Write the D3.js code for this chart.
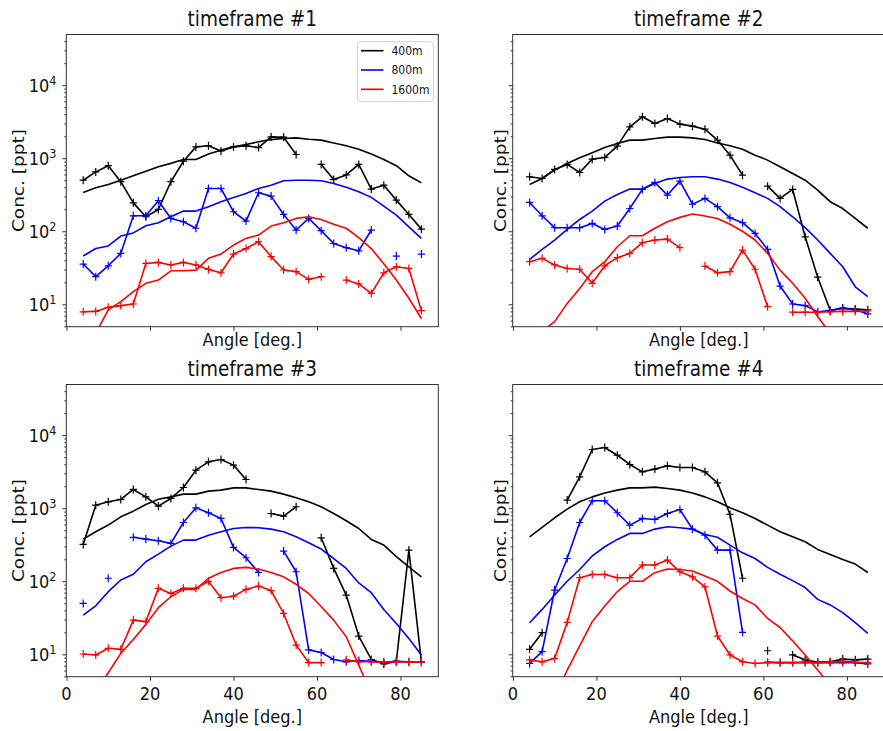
<!DOCTYPE html>
<html>
<head>
<meta charset="utf-8">
<script src="https://cdn.jsdelivr.net/npm/d3@7"></script>
<style>
  body { margin: 0; background: #fff; }
  text { font-family: "DejaVu Sans", sans-serif; fill: #111; }
</style>
</head>
<body>
<svg id="chart" width="883" height="731"></svg>
<script>
// sampling angles (deg.)
var angles = [4, 7, 10, 13, 16, 19, 22, 25, 28, 31, 34, 37, 40, 43, 46, 49, 52, 55, 58, 61, 64, 67, 70, 73, 76, 79, 82, 85];
var seriesNames = ["400m", "800m", "1600m"];
var titles = ["timeframe #1", "timeframe #2", "timeframe #3", "timeframe #4"];
var xTicks = [0, 20, 40, 60, 80];
var yMajor = [10, 100, 1000, 10000];

// timeframe #1
var tf1Meas400 = [500, 650, 790, 477, 245, 158, 199, 477, 910, 1430, 1480, 1260, 1430, 1480, 1400, 1960, 1940, 1125, null, 822, 510, 590, 822, 378, 428, 267, 170, 107];
var tf1Model400 = [340, 394, 438, 500, 575, 665, 763, 850, 960, 960, 1140, 1290, 1430, 1545, 1680, 1800, 1860, 1900, 1820, 1770, 1620, 1480, 1330, 1140, 960, 790, 575, 460];
var tf1Meas800 = [35.6, 23.9, 33.7, 49.8, 163, 163, 262, 150, 135, 110, 386, 386, 185, 138, 337, 303, 170, 104, 150, 102, 68, 59.6, 54, 104, null, 45.8, null, 48.8];
var tf1Model800 = [45.8, 58, 63, 86, 95, 119, 131, 158, 189, 189, 217, 254, 291, 330, 386, 428, 492, 500, 500, 492, 452, 400, 348, 291, 221, 166, 115, 80];
var tf1Meas1600 = [7.9, 8.0, 9.1, 9.6, 10.1, 36.3, 37.5, 34.6, 37.5, 34.6, 30, 27, 48.8, 58, 72, 45, 29.5, 28, 22, 23.9, null, 21.5, 19, 14.1, 27, 32.7, 31, 8.2];
var tf1Model1600 = [2.1, 4.0, 8.4, 10.9, 14.9, 19.4, 21.5, 28.8, 28.8, 29.4, 42.6, 48.8, 64.8, 80, 88.7, 118, 131, 150, 158, 145, 125, 110, 82, 58, 36, 21.5, 12.1, 6.4];

// timeframe #2
var tf2Meas400 = [557, 528, 702, 822, 638, 972, 1025, 1465, 2690, 3690, 2990, 3500, 2930, 2750, 2500, 1770, 1100, 587, null, 415, 282, 374, 84, 23.5, 8.3, 8.8, 8.6, 8.4];
var tf2Model400 = [438, 528, 687, 847, 1014, 1187, 1403, 1592, 1770, 1770, 1864, 1945, 1945, 1900, 1800, 1620, 1480, 1330, 1100, 942, 763, 619, 500, 366, 254, 205, 150, 110];
var tf2Meas800 = [248, 163, 112, 112, 112, 128, 106, 118, 205, 374, 466, 313, 486, 235, 282, 217, 153, 131, 93.5, 56.5, 17.8, 10.1, 9.6, 7.9, 8.2, 8.9, 8.4, 7.4];
var tf2Model800 = [41.2, 56.5, 75.9, 106, 145, 189, 259, 319, 378, 378, 452, 518, 546, 557, 557, 518, 466, 400, 337, 282, 217, 158, 112, 75.9, 49.8, 32.7, 17.4, 12.7];
var tf2Meas1600 = [38.3, 42.6, 34.6, 31, 30.2, 19.4, 33.7, 43.5, 49.8, 69.7, 75.9, 78.2, 59.6, null, 33.4, 27, 28, 55.3, 30.2, 9.3, null, 7.8, 7.8, 7.8, 7.9, 8.0, 8.0, 8.1];
var tf2Model1600 = [3.0, 4.3, 5.8, 10.3, 16.5, 28, 38.3, 61.4, 86.9, 86.9, 110, 135, 155, 172, 162, 150, 125, 100, 75.9, 49.8, 29.4, 19.4, 12.1, 6.8, 4.0, 2.5, 1.5, 0.9];

// timeframe #3
var tf3Meas400 = [319, 1100, 1224, 1318, 1807, 1432, 1069, 1361, 1923, 3320, 4316, 4645, 3889, 2475, null, 847, 780, 1047, null, 394, 150, 64.8, 17.8, 8.5, 7.4, 8.0, 267, 7.9];
var tf3Model400 = [378, 477, 588, 763, 912, 1125, 1330, 1430, 1560, 1560, 1714, 1770, 1900, 1900, 1800, 1714, 1560, 1390, 1224, 1047, 847, 673, 528, 374, 313, 217, 158, 115];
var tf3Meas800 = [49.8, null, 110, null, 400, 378, 359, 330, 638, 1014, 867, 724, 291, 210, 132, null, 259, 135, 11.5, 10.6, 8.5, 7.9, 8.2, 8.0, 7.8, 8.0, 7.9, 7.8];
var tf3Model800 = [34.5, 46.2, 72, 104, 125, 185, 235, 303, 366, 366, 428, 477, 528, 546, 541, 518, 477, 406, 337, 276, 205, 150, 95, 69.7, 41.2, 26.5, 16.5, 9.8];
var tf3Meas1600 = [10.1, 9.8, 12.1, 11.7, 29.4, 28, 80, 68, 80, 80, 100, 59.6, 62.5, 77.5, 86, 74.6, 36.3, 13.4, 7.7, 7.7, null, 8.4, 7.9, 7.9, 7.8, 7.9, 7.8, 7.8];
var tf3Model1600 = [1.5, 3.0, 5.6, 10.3, 16, 25.7, 43.5, 61.4, 77.5, 77.5, 110, 132, 150, 155, 147, 132, 115, 91, 68, 45.1, 29.4, 17.4, 7.1, 2.9, 1.2, 0.6, 0.3, 0.2];

// timeframe #4
var tf4Meas400 = [11.7, 19.8, null, 1291, 2690, 6370, 6780, 5320, 3970, 3150, 3430, 3805, 3610, 3610, 3150, 2230, 822, 110, null, 11.2, null, 9.8, 8.4, 7.8, 7.9, 8.6, 8.4, 8.6];
var tf4Model400 = [406, 546, 740, 972, 1224, 1430, 1620, 1770, 1900, 1900, 1945, 1860, 1770, 1620, 1430, 1224, 1014, 867, 724, 587, 477, 406, 348, 273, 233, 199, 172, 132];
var tf4Meas800 = [7.5, 10.9, 75.9, 205, 638, 1264, 1264, 867, 587, 724, 702, 847, 960, 518, 428, 267, 267, 20, null, 7.8, 7.7, 7.7, 7.8, 7.7, 7.7, 7.7, 7.7, 7.4];
var tf4Model800 = [27.1, 41.2, 64.8, 100, 145, 222, 297, 374, 452, 452, 518, 557, 541, 518, 438, 400, 313, 245, 205, 155, 125, 102, 82, 56.5, 47.5, 37.3, 27.1, 19.4];
var tf4Meas1600 = [8.4, 7.9, 8.8, 27.4, 112, 124, 124, 112, 112, 167, 167, 195, 135, 115, 84, 17.8, 9.8, 7.9, 7.5, 7.7, 7.7, 7.7, 7.7, 7.7, 7.8, 8.0, 7.8, 7.7];
var tf4Model1600 = [0.6, 1.2, 2.5, 6.1, 13.1, 28, 45.8, 72, 100, 100, 131, 147, 145, 138, 118, 100, 73.6, 58, 47.5, 31, 23.3, 15.3, 9.8, 6.1, 3.8, 2.1, 1.2, 0.7];

var colors = ["#000000", "#0000ff", "#ff0000"];

var panels = [
    {title: titles[0], meas: [tf1Meas400, tf1Meas800, tf1Meas1600], model: [tf1Model400, tf1Model800, tf1Model1600]},
    {title: titles[1], meas: [tf2Meas400, tf2Meas800, tf2Meas1600], model: [tf2Model400, tf2Model800, tf2Model1600]},
    {title: titles[2], meas: [tf3Meas400, tf3Meas800, tf3Meas1600], model: [tf3Model400, tf3Model800, tf3Model1600]},
    {title: titles[3], meas: [tf4Meas400, tf4Meas800, tf4Meas1600], model: [tf4Model400, tf4Model800, tf4Model1600]}
];

var W = 372, H = 292.2;
var spots = [
    {x: 66.3, y: 34.5, row: 0, col: 0},
    {x: 512.7, y: 34.5, row: 0, col: 1},
    {x: 66.3, y: 384.5, row: 1, col: 0},
    {x: 512.7, y: 384.5, row: 1, col: 1}
];
var SX = 0.9; // text looks squeezed a bit sideways

var svg = d3.select("#chart");

var x = d3.scaleLinear().domain([-0.05, 89.05]).range([0, W]);
var y = d3.scaleLog().domain([4.94, 49400]).range([H, 0]);
var yMinor = y.ticks().filter(function(v) { return yMajor.indexOf(v) < 0; });

function label(parent, str, tx, ty, size, anchor) {
    return parent.append("text")
        .attr("transform", "translate(" + tx + "," + ty + ") scale(" + SX + ",1)")
        .attr("text-anchor", anchor)
        .style("font-size", size + "px")
        .text(str);
}

var plus = "M-3.6,0H3.6M0,-4V4";

panels.forEach(function(p, k) {
    var s = spots[k];
    var g = svg.append("g").attr("transform", "translate(" + s.x + "," + s.y + ")");

    g.append("clipPath").attr("id", "clip" + k)
        .append("rect").attr("width", W).attr("height", H);

    var plot = g.append("g").attr("clip-path", "url(#clip" + k + ")");

    p.meas.forEach(function(arr, i) {
        var pts = angles.map(function(a, j) { return {a: a, v: arr[j]}; });
        var line = d3.line()
            .defined(function(d) { return d.v != null; })
            .x(function(d) { return x(d.a); })
            .y(function(d) { return y(d.v); });
        plot.append("path").datum(pts)
            .attr("d", line)
            .attr("fill", "none")
            .attr("stroke", colors[i])
            .attr("stroke-width", 1.6)
            .attr("stroke-linejoin", "round");
        plot.selectAll(".mk" + i)
            .data(pts.filter(function(d) { return d.v != null; }))
            .enter().append("path")
            .attr("class", "mk" + i)
            .attr("d", plus)
            .attr("transform", function(d) { return "translate(" + x(d.a) + "," + y(d.v) + ")"; })
            .attr("stroke", colors[i])
            .attr("stroke-width", 1.2)
            .attr("fill", "none");

        var mline = d3.line()
            .x(function(d, j) { return x(angles[j]); })
            .y(function(d) { return y(d); });
        plot.append("path").datum(p.model[i])
            .attr("d", mline)
            .attr("fill", "none")
            .attr("stroke", colors[i])
            .attr("stroke-width", 1.6)
            .attr("stroke-linejoin", "round");
    });

    // frame
    g.append("rect").attr("width", W).attr("height", H)
        .attr("fill", "none").attr("stroke", "#333").attr("stroke-width", 1);

    // y ticks
    var ya = g.append("g").call(d3.axisLeft(y).tickValues(yMajor).tickSize(4).tickFormat(""));
    ya.append("g").call(d3.axisLeft(y).tickValues(yMinor).tickSize(2).tickFormat(""));
    ya.selectAll(".domain").remove();
    ya.selectAll("line").attr("stroke", "#333");

    // x ticks
    var xa = g.append("g").attr("transform", "translate(0," + H + ")")
        .call(d3.axisBottom(x).tickValues(xTicks).tickSize(4).tickFormat(""));
    xa.selectAll(".domain").remove();
    xa.selectAll("line").attr("stroke", "#333");

    if (s.col === 0) {
        yMajor.forEach(function(v) {
            var t = g.append("text")
                .attr("transform", "translate(" + (-9.8) + "," + (y(v) + 7) + ") scale(" + SX + ",1)")
                .attr("text-anchor", "end")
                .style("font-size", "18px");
            t.append("tspan").text("10");
            t.append("tspan").attr("dy", -7).style("font-size", "12.5px").text(Math.round(Math.log10(v)));
        });
    }
    if (s.row === 1) {
        xTicks.forEach(function(v) {
            label(g, String(v), x(v), H + 23.3, 18, "middle");
        });
    }

    // titles and axis labels
    label(g, p.title, W / 2, -8.3, 20.5, "middle");
    label(g, "Angle [deg.]", W / 2, s.row === 1 ? H + 46.6 : H + 19, 18, "middle");
    var yl = s.col === 0 ? -42.3 : -6.5;
    g.append("text")
        .attr("transform", "translate(" + yl + "," + (H / 2) + ") rotate(-90) scale(1," + SX + ")")
        .attr("text-anchor", "middle")
        .style("font-size", "18.5px")
        .text("Conc. [ppt]");

    if (k === 0) {
        var lg = g.append("g").attr("transform", "translate(" + (357.5 - s.x) + "," + (41.7 - s.y) + ")");
        lg.append("rect").attr("width", 76).attr("height", 60).attr("rx", 3)
            .attr("fill", "#fff").attr("fill-opacity", 0.8)
            .attr("stroke", "#d0d0d0").attr("stroke-width", 1);
        seriesNames.forEach(function(n, i) {
            var ly = 9 + i * 19.3;
            lg.append("line").attr("x1", 3.5).attr("x2", 26).attr("y1", ly).attr("y2", ly)
                .attr("stroke", colors[i]).attr("stroke-width", 1.6);
            label(lg, n, 34, ly + 4.3, 12, "start");
        });
    }
});
</script>
</body>
</html>
